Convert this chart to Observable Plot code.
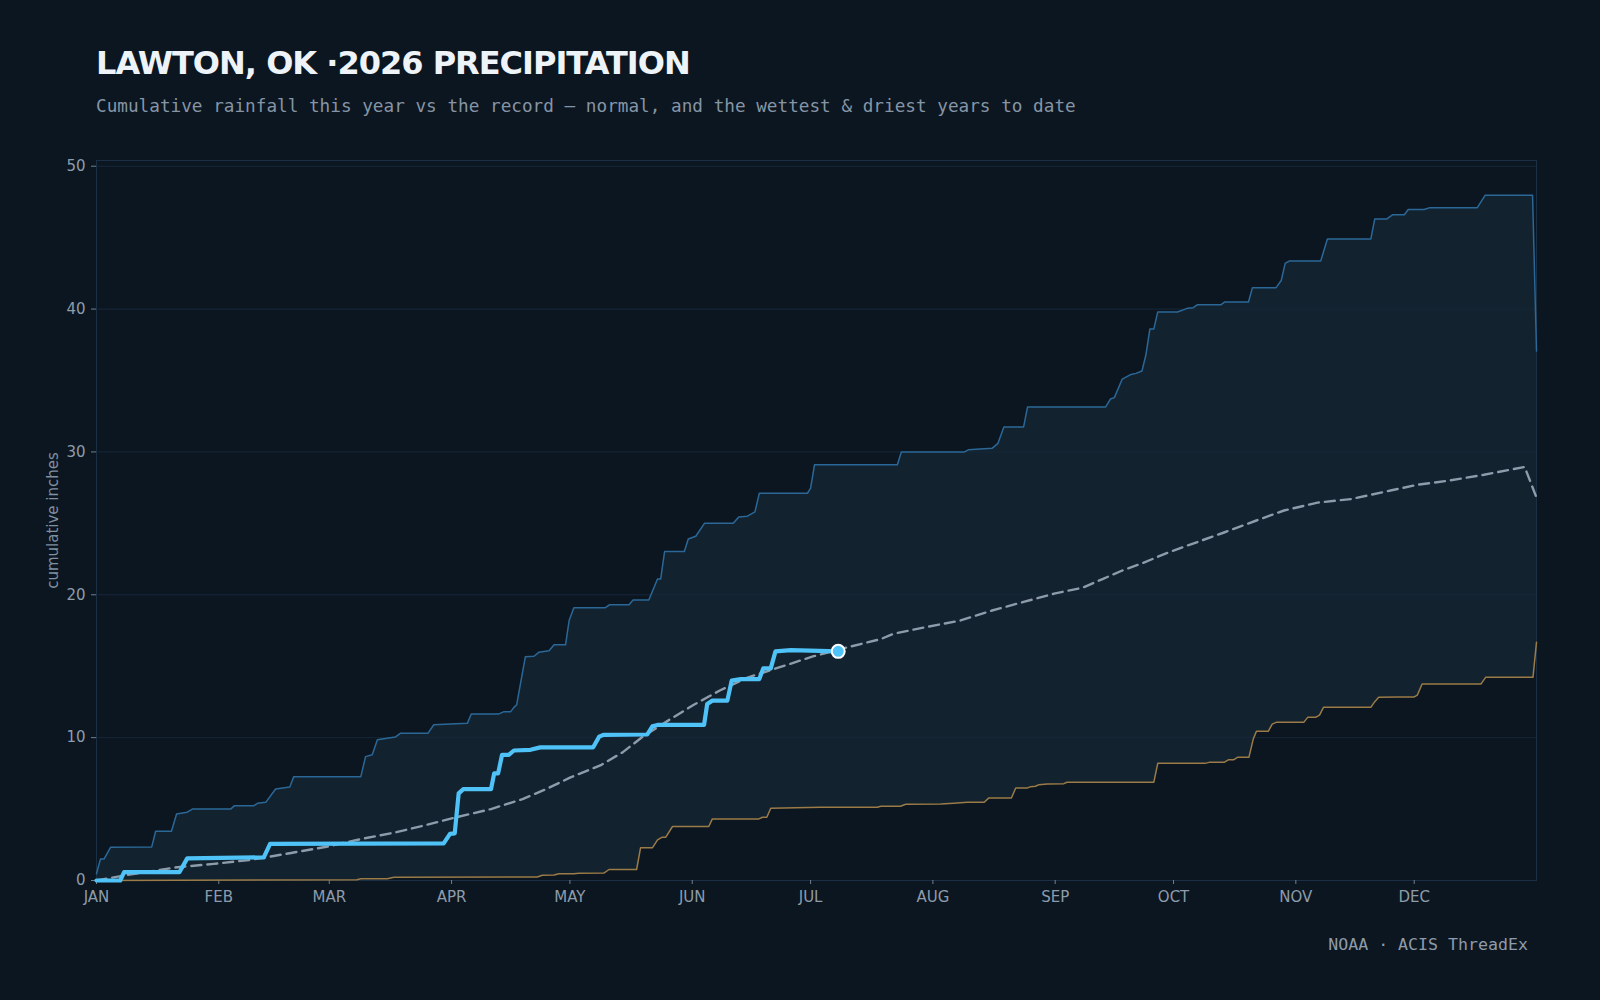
<!DOCTYPE html>
<html>
<head>
<meta charset="utf-8">
<script src="https://cdn.jsdelivr.net/npm/d3@7"></script>
<script src="https://cdn.jsdelivr.net/npm/@observablehq/plot@0.6"></script>
<style>
  html, body { margin: 0; padding: 0; background: #0c1620; }
  body { width: 1600px; height: 1000px; position: relative; overflow: hidden; }
  #title { position: absolute; left: 96px; top: 47px; font-family: "DejaVu Sans"; font-weight: bold; font-size: 32px; line-height: 32px; letter-spacing: -1px; color: #eef3f8; white-space: nowrap; }
  #subtitle { position: absolute; left: 96px; top: 98px; font-family: "DejaVu Sans Mono"; font-size: 17.7px; line-height: 17.7px; color: #8595a6; white-space: nowrap; }
  #chart { position: absolute; left: 0; top: 140px; }
  #caption { position: absolute; right: 72px; top: 937px; font-family: "DejaVu Sans Mono"; font-size: 16.6px; line-height: 16.6px; color: #8e9bab; white-space: nowrap; }
</style>
</head>
<body>
<div id="title">LAWTON, OK ·2026 PRECIPITATION</div>
<div id="subtitle">Cumulative rainfall this year vs the record — normal, and the wettest &amp; driest years to date</div>
<div id="chart"></div>
<div id="caption">NOAA · ACIS ThreadEx</div>
<script>
// ---- data (day of year, cumulative inches) ----
const MONTH_LABELS = ["JAN","FEB","MAR","APR","MAY","JUN","JUL","AUG","SEP","OCT","NOV","DEC"];
const Y_TICKS = [0, 10, 20, 30, 40, 50];

const currentDays = [0,6,7,21,23,42.4,44,88,89.6,90.8,91.8,93,100,100.8,101.8,102.8,104.5,105.8,110,112.5,125.9,127.4,128.6,139.6,140.9,142.2,154,154.8,156.1,159.9,161,163.3,168,169,170.9,172.1,176,188];
const currentVals = [0,0,0.58,0.58,1.55,1.62,2.56,2.6,3.26,3.3,6.1,6.4,6.4,7.5,7.5,8.8,8.8,9.1,9.15,9.32,9.32,10.07,10.2,10.22,10.79,10.89,10.89,12.36,12.59,12.59,13.99,14.1,14.1,14.85,14.85,16.04,16.13,16.04];

const normalDays = [0,7,20.5,29.7,39,49,59,67,76,83,90.5,100,108,114,120,128,133.5,138.6,145.5,151.4,158,165,171.7,181.8,190,198.8,202,210.6,219,227,235,243,250,255,260,265,272,285.8,294,301,309.5,318,328,334.8,343,351.7,362,365];
const normalVals = [0,0.35,0.93,1.16,1.44,1.91,2.4,2.9,3.38,3.85,4.38,5.0,5.7,6.4,7.2,8.1,9.0,10.1,11.3,12.3,13.3,14.2,14.8,15.7,16.3,16.9,17.27,17.76,18.2,18.9,19.5,20.1,20.5,21.1,21.7,22.2,23.0,24.36,25.2,25.9,26.45,26.7,27.3,27.7,28.0,28.4,28.95,26.8];

const wettestDays = [0,1,1.9,3.6,14,15,19,20.3,23,24.3,34,35,39.9,40.8,42.9,45.4,49,50,67,68.2,69.9,71.2,74.5,75.8,77,84,85.5,94,95,102,103.3,105,105.8,106.5,108.7,110.9,112.1,114.7,116,118.9,119.8,121,129,130,135,136,140,142.2,143,144,149,150,151.9,154.1,161.4,162.8,165,166.9,168,180.2,181,182,203,204,220,221,227,228.5,230,235,236,255.8,257,258,260,262,263.5,265,266,267,268,269,274,276.5,278,279,285,286,292,293,299,300.3,301.3,302.3,310.3,312,323,324,327,328.5,331.5,332.5,336.5,338,350,352,364,365];
const wettestVals = [0.47,1.5,1.5,2.33,2.35,3.45,3.45,4.66,4.78,5.0,5.0,5.24,5.24,5.4,5.47,6.4,6.55,7.27,7.27,8.67,8.8,9.86,10.0,10.05,10.3,10.3,10.9,11.0,11.66,11.66,11.82,11.82,12.12,12.3,15.66,15.7,15.97,16.08,16.5,16.5,18.2,19.1,19.1,19.3,19.3,19.63,19.63,21.1,21.1,23.03,23.03,23.9,24.1,25.0,25.0,25.45,25.5,25.8,27.1,27.1,27.46,29.1,29.1,30.0,30.0,30.15,30.25,30.6,31.75,31.75,33.15,33.15,33.7,33.8,35.1,35.4,35.5,35.66,36.8,38.6,38.6,39.8,39.8,40.05,40.1,40.3,40.3,40.5,40.5,41.5,41.5,42.0,43.2,43.36,43.36,44.9,44.9,46.3,46.3,46.6,46.6,46.97,46.97,47.1,47.1,47.97,47.97,37.06];

const driestDays = [0,66,67,73.7,75.4,111.7,113,116,117.2,121,122.3,128.6,129.9,136.9,137.9,140.9,142.2,143.4,144.3,146,155.2,156.1,167.9,168.8,169.9,170.9,183.5,197.9,198.8,203.8,205.1,214,217.3,220.7,225,226.2,231.9,233,236,236.8,238,238.9,241,245.2,246,268,269,281,282,285.8,287,288.3,289.2,292.1,293.2,294,297,298,299,306,307,309,310,311,323,324,325,329.7,334,334.8,336,350.9,352.1,364.1,365];
const driestVals = [0,0.05,0.12,0.12,0.23,0.25,0.37,0.38,0.47,0.47,0.51,0.52,0.77,0.77,2.29,2.29,2.85,3.03,3.03,3.78,3.78,4.31,4.31,4.43,4.43,5.06,5.12,5.13,5.2,5.2,5.34,5.36,5.41,5.48,5.48,5.78,5.78,6.48,6.48,6.57,6.6,6.71,6.76,6.78,6.88,6.88,8.2,8.2,8.27,8.27,8.46,8.46,8.62,8.62,9.9,10.44,10.44,10.95,11.07,11.07,11.42,11.42,11.58,12.12,12.12,12.52,12.82,12.85,12.85,12.98,13.75,13.75,14.22,14.22,16.67];

// ---- build tables ----
const YEAR_START = Date.UTC(2026, 0, 1);
const YEAR_END = Date.UTC(2027, 0, 1);
const toDate = d => new Date(YEAR_START + d * 864e5);
const table = (days, vals) => days.map((d, i) => ({date: toDate(d), v: vals[i]}));
const current = table(currentDays, currentVals);
const normal = table(normalDays, normalVals);
const wettest = table(wettestDays, wettestVals);
const driest = table(driestDays, driestVals);
const monthTicks = d3.utcMonth.range(new Date(YEAR_START), new Date(YEAR_END));

const BG = "#0c1620";

const chart = Plot.plot({
  width: 1600,
  height: 780,
  marginTop: 20,
  marginBottom: 40,
  marginLeft: 96,
  marginRight: 64,
  style: {background: "transparent", color: "#8d9cab", fontFamily: "DejaVu Sans", fontSize: "15px"},
  x: {type: "utc", domain: [new Date(YEAR_START), new Date(YEAR_END)]},
  y: {domain: [0, 50.4]},
  marks: [
    Plot.areaY(wettest, {x: "date", y: "v", fill: "#12222f"}),
    Plot.areaY(driest, {x: "date", y: "v", fill: BG}),
    Plot.gridY([10, 20, 30, 40, 50], {stroke: "#16283a", strokeOpacity: 1}),
    Plot.frame({stroke: "#1b3044", strokeOpacity: 1}),
    Plot.axisY({ticks: Y_TICKS, tickSize: 5, tickPadding: 6, label: null, stroke: "#6e8193", fill: "#8d9cab", fontSize: 15}),
    Plot.axisX({ticks: monthTicks, tickFormat: (d, i) => MONTH_LABELS[i], tickSize: 4, tickPadding: 7, label: null, stroke: "#6e8193", fill: "#8d9cab", fontSize: 15}),
    Plot.line(wettest, {x: "date", y: "v", stroke: "#2b6797", strokeWidth: 1.5, strokeLinejoin: "round"}),
    Plot.line(driest, {x: "date", y: "v", stroke: "#9b7c48", strokeWidth: 1.5, strokeLinejoin: "round"}),
    Plot.line(normal, {x: "date", y: "v", stroke: "#8d9bab", strokeWidth: 2.4, strokeDasharray: "10,6"}),
    Plot.line(current, {x: "date", y: "v", stroke: "#4fc3f7", strokeWidth: 4.2, strokeLinejoin: "round", strokeLinecap: "round"}),
    Plot.dot(current.slice(-1), {x: "date", y: "v", r: 6.5, fill: "#4fc3f7", stroke: "#ffffff", strokeWidth: 2}),
    Plot.text(["cumulative inches"], {frameAnchor: "left", dx: -43, rotate: -90, textAnchor: "middle", text: d => d, fill: "#7f90a1", fontSize: 15})
  ]
});
document.getElementById("chart").appendChild(chart);
</script>
</body>
</html>
